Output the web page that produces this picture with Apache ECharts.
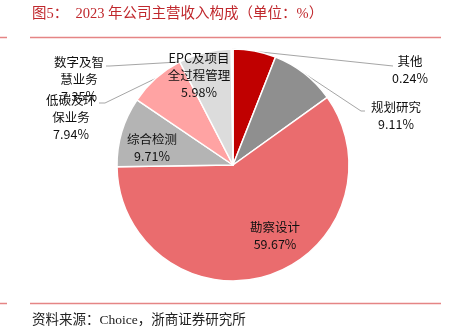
<!DOCTYPE html>
<html>
<head>
<meta charset="utf-8">
<script src="https://cdn.jsdelivr.net/npm/echarts@6/dist/echarts.min.js"></script>
<style>
  html, body { margin: 0; padding: 0; background: #fff; }
  #chart { width: 450px; height: 334px; }
</style>
</head>
<body>
<div id="chart"></div>
<script>
// 2023 revenue mix by business line, clockwise from 12 o'clock (%)
const categories = ['EPC及项目全过程管理', '规划研究', '勘察设计', '综合检测', '低碳及环保业务', '数字及智慧业务', '其他'];
const shares = [5.98, 9.11, 59.67, 9.71, 7.94, 7.35, 0.24];
// how each category name is broken over lines in its label
const nameLines = [['EPC及项目', '全过程管理'], ['规划研究'], ['勘察设计'], ['综合检测'], ['低碳及环', '保业务'], ['数字及智', '慧业务'], ['其他']];

const sliceColors = ['#C00000', '#8F8F8F', '#EA6C6E', '#B4B4B4', '#FFA3A3', '#DCDCDC', '#F2F2F2'];

// pie geometry
const CENTER = [233, 165];
const RADIUS = 116;

// label centres and leader-line routing (label side), by data index
const labelPos = [[199, 75], [396, 116], [275, 236], [152, 148], [71, 117], [79, 79], [410, 70]];
const leaderTail = {
  1: { t: 0.5, pts: [[361, 111], [365, 111]] },
  4: { t: 0.5, pts: [[105, 103], [99, 103]] },
  5: { t: 0.0, pts: [[110, 66], [106, 66]] },
  6: { t: 0.5, pts: [[393, 66]] }
};

const total = shares.reduce((a, b) => a + b, 0);
// point on the pie rim at fraction t through slice i
function rimPoint(i, t) {
  let before = 0;
  for (let k = 0; k < i; k++) before += shares[k];
  const a = (before + t * shares[i]) / total * Math.PI * 2;
  return [CENTER[0] + RADIUS * Math.sin(a), CENTER[1] - RADIUS * Math.cos(a)];
}

const FONT = "'Noto Sans CJK SC', sans-serif";

const data = categories.map((name, i) => {
  const outside = leaderTail[i] !== undefined;
  return {
    name: name,
    value: shares[i],
    itemStyle: { color: sliceColors[i] },
    label: { position: outside ? 'outside' : 'inside' },
    labelLine: { show: outside }
  };
});

const chart = echarts.init(document.getElementById('chart'), null, { renderer: 'canvas' });
chart.setOption({
  animation: false,
  backgroundColor: '#fff',
  series: [{
    type: 'pie',
    center: CENTER,
    radius: RADIUS,
    startAngle: 90,
    clockwise: true,
    avoidLabelOverlap: false,
    data: data,
    itemStyle: { borderColor: '#fff', borderWidth: 1.5 },
    emphasis: { disabled: true },
    label: {
      show: true,
      color: '#111',
      fontFamily: FONT,
      fontSize: 12.5,
      lineHeight: 17,
      align: 'center',
      formatter: p => nameLines[p.dataIndex].join('\n') + '\n' + p.value.toFixed(2) + '%'
    },
    labelLine: {
      show: true,
      lineStyle: { color: '#A6A6A6', width: 1 }
    },
    labelLayout: p => {
      const i = p.dataIndex;
      const out = { x: labelPos[i][0], y: labelPos[i][1], align: 'center', verticalAlign: 'middle' };
      const lead = leaderTail[i];
      if (lead) out.labelLinePoints = [rimPoint(i, lead.t)].concat(lead.pts);
      return out;
    }
  }],
  graphic: [
    {
      type: 'text', left: 32, top: 7,
      style: { text: '图5：  2023 年公司主营收入构成（单位：%）', fill: '#C0282D', font: "14.5px 'Liberation Serif', 'Noto Sans CJK SC', serif" }
    },
    { type: 'line', shape: { x1: 0, y1: 37.5, x2: 7, y2: 37.5 }, style: { stroke: '#E58585', lineWidth: 1.5 } },
    { type: 'line', shape: { x1: 30, y1: 37.5, x2: 441, y2: 37.5 }, style: { stroke: '#E58585', lineWidth: 1.5 } },
    { type: 'line', shape: { x1: 0, y1: 303.5, x2: 7, y2: 303.5 }, style: { stroke: '#E58585', lineWidth: 1.5 } },
    { type: 'line', shape: { x1: 30, y1: 303.5, x2: 441, y2: 303.5 }, style: { stroke: '#E58585', lineWidth: 1.5 } },
    {
      type: 'text', left: 32, top: 314,
      style: { text: '资料来源：Choice，浙商证券研究所', fill: '#222', font: "13.5px 'Liberation Serif', 'Noto Sans CJK SC', serif" }
    }
  ]
});
</script>
</body>
</html>
